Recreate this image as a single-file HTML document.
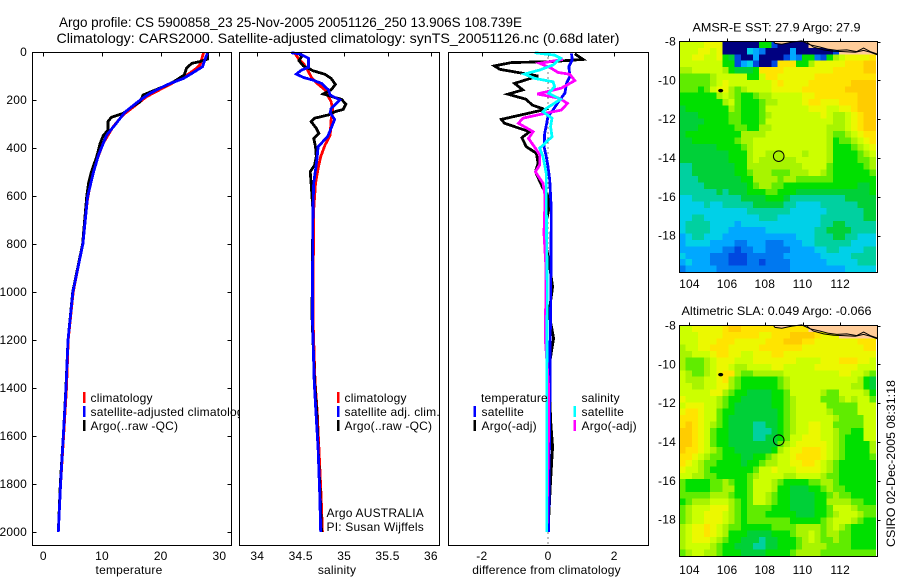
<!DOCTYPE html>
<html>
<head>
<meta charset="utf-8">
<title>Argo profile</title>
<style>
html,body{margin:0;padding:0;background:#fff;}
svg{display:block;font-family:"Liberation Sans",sans-serif;font-size:12px;fill:#000;letter-spacing:0.2px;}
</style>
</head>
<body>
<svg id="chart" width="900" height="580" viewBox="0 0 900 580" xmlns="http://www.w3.org/2000/svg">
<rect x="0" y="0" width="900" height="580" fill="#fff"/>
<text x="59" y="27" font-size="14" style="letter-spacing:0" textLength="463" lengthAdjust="spacingAndGlyphs">Argo profile: CS 5900858_23 25-Nov-2005 20051126_250 13.906S 108.739E</text>
<text x="56.5" y="43" font-size="14" style="letter-spacing:0" textLength="563" lengthAdjust="spacingAndGlyphs">Climatology: CARS2000. Satellite-adjusted climatology: synTS_20051126.nc (0.68d later)</text>
<g id="g1"></g>
<g id="g2"></g>
<g id="g3"></g>
<g id="g4"></g>
<g id="g5"></g>
<text transform="translate(895,547) rotate(-90)" style="letter-spacing:0" textLength="167" lengthAdjust="spacingAndGlyphs">CSIRO 02-Dec-2005 08:31:18</text>
</svg>
<script>
// ---------- profile data ----------
const depthTicks = [0,200,400,600,800,1000,1200,1400,1600,1800,2000];
const tempTicks = [0,10,20,30];
const salTicks = [34,34.5,35,35.5,36];
const diffTicks = [-2,0,2];

const tempClimDepth = [3,54,68,103,142,186,230,262,311,380,471,547,620,800,1000,1200,1400,1600,1800,2000];
const tempClim = [27.3,26.7,26.1,24.1,21,17.6,15.3,13.6,11.9,10.2,8.8,8,7.5,6.7,5.1,4.25,3.95,3.45,2.95,2.55];
const tempArgoDepth = [5,30,40,47,68,96,124,144,161,179,207,230,256,272,290,325,349,380,436,499,547,603,800,1000,1200,1400,1600,1800,2000];
const tempArgo = [27.95,27.95,26.7,25.3,24.4,24,22.2,20.5,18.8,17,16.5,15,13.6,11.6,11,11,10.2,9.7,9.1,8.2,7.7,7.4,6.7,5,4.2,3.85,3.4,2.9,2.55];
const tempSatDepth = [5,47,61,89,110,137,172,200,251,304,346,429,505,603,800,1000,1200,1400,1600,1800,2000];
const tempSat = [27.95,27.3,27.15,25.3,23.9,21,18.2,16.5,13.9,12.2,10.8,9.4,8.5,7.55,6.75,5.05,4.2,3.87,3.4,2.95,2.55];

const salClimDepth = [3,26,47,75,110,131,158,207,242,283,346,388,436,485,547,603,658,1100,1370,1500,1650,1850,2000];
const salClim = [34.43,34.47,34.53,34.58,34.63,34.69,34.78,34.85,34.87,34.85,34.84,34.78,34.73,34.7,34.67,34.66,34.65,34.64,34.665,34.69,34.71,34.735,34.75];
const salArgoDepth = [3,19,36,58,68,78,93,110,135,158,175,189,197,217,239,249,262,276,290,318,339,360,394,436,471,499,547,658,1100,1370,1500,1650,1850,2000];
const salArgo = [34.47,34.51,34.48,34.53,34.59,34.64,34.78,34.85,34.9,34.85,34.76,34.89,34.97,35.02,34.99,34.89,34.82,34.66,34.62,34.68,34.71,34.65,34.67,34.68,34.66,34.61,34.62,34.64,34.63,34.66,34.685,34.7,34.725,34.74];
const salSatDepth = [3,8,26,64,75,92,106,117,131,158,179,200,235,253,281,318,353,394,436,492,547,658,1100,1370,1500,1650,1850,2000];
const salSat = [34.39,34.49,34.59,34.59,34.51,34.45,34.53,34.64,34.74,34.82,34.84,34.95,34.85,34.84,34.89,34.85,34.81,34.7,34.69,34.67,34.65,34.64,34.635,34.655,34.675,34.7,34.72,34.73];

const diffTempArgoDepth = [8,31,40,44,58,72,100,131,158,176,197,221,239,249,281,297,332,357,394,422,464,499,568,603,658,755,867,978,1089,1193,1311,1535,1645,1784,2000];
const diffTempArgo = [0.81,1.06,0.1,-1.11,-1.62,-1.46,-0.3,-1.01,-0.76,-1.21,-0.66,-0.48,-0.1,-0.4,-1.41,-1.31,-0.56,-0.79,-0.66,-0.35,-0.3,-0.38,-0.15,0.02,0.02,-0.13,0.02,0.14,0.03,0.17,0.03,0.08,0.14,0.08,0];
const diffTempSatDepth = [6,33,61,103,131,172,200,242,269,339,394,436,478,533,658,1100,1240,1400,1800,2000];
const diffTempSat = [0.71,0.73,0.63,0.66,0.56,0.51,0.35,0.15,0,-0.1,-0.12,-0.05,0,0.05,0.1,0.08,0.06,0.06,0.03,0.02];
const diffSalArgoDepth = [31,47,68,85,93,119,151,175,193,214,242,256,276,297,332,360,401,429,471,499,547,589,658,755,900,1200,1400,1550,2000];
const diffSalArgo = [0.45,-0.25,0.1,0.3,0.66,0.81,0.4,-0.32,0.35,0.59,0.4,-0.1,-0.76,-0.89,-0.45,-0.59,-0.38,-0.25,-0.25,-0.38,-0.15,-0.1,-0.1,-0.12,-0.06,-0.08,0.02,0.02,-0.04];
const diffSalSatDepth = [3,13,26,54,75,92,110,124,144,172,197,235,249,276,311,353,401,436,506,658,1000,1400,2000];
const diffSalSat = [-0.4,0.2,0.38,0.15,-0.25,-0.71,-0.4,0.15,0.2,0.02,0.38,-0.05,-0.15,0.12,0.08,0.12,-0.25,-0.15,-0.05,-0.05,-0.02,-0.04,-0.04];

// ---------- map data (colour level per grid cell; 14 = land) ----------
const lonTicks = [104,106,108,110,112];
const latTicks = [-8,-10,-12,-14,-16,-18];
const sstGrid = [
[10,10,10,10,11,11,11,0,0,0,0,0,0,7,7,1,0,0,0,0,0,14,14,14,14,14,14,14,14,14,14,14],
[10,10,10,11,11,10,11,0,0,0,0,4,3,2,0,0,0,0,3,0,0,0,0,0,0,1,14,14,14,14,14,14],
[10,10,11,11,10,10,11,7,6,1,0,0,3,0,0,0,0,1,3,2,7,7,2,1,7,9,10,11,11,11,11,12],
[10,10,10,10,10,10,10,7,7,1,3,4,1,0,0,1,12,12,12,7,7,9,11,11,11,11,11,12,12,12,13,13],
[9,9,10,10,10,10,10,9,7,6,6,6,7,12,12,12,12,11,11,11,11,11,11,11,11,12,12,12,12,12,13,13],
[8,8,8,8,8,9,10,10,10,10,10,7,7,10,12,12,11,11,11,11,11,11,12,12,12,12,12,12,12,12,12,12],
[8,8,8,8,8,9,10,11,10,10,10,10,10,10,10,11,12,11,11,11,11,12,12,12,12,12,12,12,13,13,13,13],
[8,8,8,7,8,10,11,11,9,8,9,10,10,10,10,11,11,11,11,11,12,12,12,12,12,12,12,13,13,13,13,13],
[7,7,7,7,7,7,9,10,9,8,7,7,8,9,9,10,10,10,10,10,11,11,12,12,12,12,12,12,12,13,13,13],
[7,7,7,7,7,7,7,9,10,8,7,7,7,8,9,9,10,10,10,10,11,12,12,11,11,11,12,12,12,13,13,13],
[6,7,7,7,7,7,7,7,9,8,7,7,7,8,10,10,10,10,10,10,10,11,11,11,10,10,11,11,12,13,13,13],
[6,6,6,7,7,7,7,7,8,8,7,7,7,8,9,10,10,10,10,10,10,10,10,11,10,9,9,10,11,12,13,13],
[6,6,6,6,7,7,7,7,8,8,7,7,7,8,10,10,10,10,10,10,10,10,10,10,10,9,9,10,11,12,13,13],
[6,6,6,7,7,7,7,7,7,8,8,7,7,9,9,10,10,10,10,10,10,10,10,10,9,9,9,10,11,12,13,13],
[6,7,7,7,7,7,7,7,7,7,9,9,9,9,10,10,10,10,10,10,10,10,10,10,9,8,8,9,10,11,12,12],
[6,6,7,7,7,7,7,7,7,8,9,9,10,10,10,10,10,10,10,10,10,10,10,10,9,7,8,8,9,10,11,12],
[6,6,6,6,6,6,7,7,7,7,8,9,10,10,10,10,10,10,10,10,10,10,10,10,9,7,7,7,8,9,10,11],
[6,6,6,6,6,6,6,6,7,7,7,9,10,10,9,9,9,10,10,10,9,10,10,10,9,7,7,7,7,8,9,10],
[6,6,6,6,6,6,6,6,7,7,7,9,10,9,9,9,9,9,9,10,10,10,10,10,9,7,7,7,7,8,8,9],
[5,5,6,6,6,6,6,6,6,7,7,9,9,9,9,9,9,9,9,9,10,10,10,10,8,7,7,7,7,7,8,9],
[5,5,6,6,6,6,6,6,6,7,7,8,9,9,9,8,8,8,9,9,9,10,10,9,8,7,7,7,7,7,7,8],
[5,5,5,6,6,6,6,6,6,6,7,7,9,9,9,9,8,9,9,8,8,8,8,8,8,7,7,7,7,7,7,7],
[5,5,5,5,6,6,6,6,6,6,6,7,8,9,9,8,8,7,7,7,7,7,7,7,7,7,7,7,7,6,6,7],
[5,5,5,5,5,5,6,5,6,6,6,7,7,7,8,8,7,7,7,6,6,6,6,6,6,6,6,6,6,6,6,7],
[4,4,5,5,5,5,5,5,5,5,6,6,6,6,7,7,7,6,5,5,5,5,5,5,5,5,5,6,6,6,6,6],
[4,4,4,4,5,4,4,5,5,5,5,5,6,6,6,6,6,5,5,4,4,4,4,5,5,5,5,5,5,6,6,6],
[4,4,4,4,4,4,4,4,4,4,4,5,5,5,5,5,5,5,4,4,4,4,4,4,5,5,5,5,5,5,6,6],
[4,4,5,5,4,4,4,4,4,4,4,4,4,5,5,5,4,4,4,4,4,4,4,5,5,5,5,5,5,5,6,6],
[4,5,5,5,5,4,4,4,4,3,4,4,4,4,4,4,4,4,4,4,4,4,4,5,5,6,6,5,5,5,5,5],
[4,5,5,5,5,4,4,4,3,3,3,3,3,3,4,4,4,4,4,4,4,4,5,5,6,6,6,6,5,5,5,5],
[3,4,5,5,4,4,4,3,3,3,3,3,3,3,3,3,3,3,3,4,4,4,5,5,5,6,6,5,5,4,4,4],
[3,4,4,4,4,3,3,3,3,2,2,3,3,3,2,2,2,3,3,3,4,4,5,5,5,5,5,5,4,4,4,4],
[3,3,3,3,3,3,3,2,2,1,2,2,3,3,2,2,2,2,3,3,3,3,4,4,5,5,4,4,4,4,5,5],
[4,3,3,3,3,2,2,2,1,1,1,2,2,2,2,2,2,3,3,3,3,3,3,4,4,4,4,4,5,5,5,5],
[3,4,3,3,3,2,2,2,1,1,1,2,2,1,2,2,2,2,3,3,3,3,3,3,4,4,4,4,4,5,5,5],
[2,3,3,3,3,3,2,2,2,2,2,2,2,2,2,2,2,2,3,3,3,3,3,3,3,3,3,4,4,4,4,4]
];
const slaGrid = [
[10,10,11,11,11,11,11,12,13,13,12,12,12,12,12,12,12,12,12,12,12,14,14,14,14,14,14,14,14,14,14,14],
[10,10,10,11,11,11,11,12,12,12,12,12,12,11,11,12,12,12,13,13,13,13,12,11,11,11,14,14,14,14,14,14],
[10,10,10,11,11,11,12,12,12,11,11,11,11,11,12,12,12,13,13,13,12,12,11,11,11,11,11,11,11,12,12,12],
[9,10,10,11,11,12,12,12,11,11,11,11,11,12,12,12,12,12,12,12,11,11,11,11,11,11,11,11,11,11,12,12],
[9,9,10,10,10,11,12,12,11,11,10,10,11,11,11,12,12,11,11,11,11,11,11,11,11,11,11,11,11,11,11,11],
[9,8,8,8,9,10,11,11,11,10,10,10,11,11,11,11,11,11,11,10,10,10,10,11,11,11,12,12,12,11,11,10],
[9,8,8,8,9,10,11,11,10,9,9,10,10,10,10,11,11,10,10,10,10,10,11,11,11,11,11,11,11,10,10,10],
[10,9,8,8,9,10,11,12,12,9,8,8,9,9,9,9,9,10,10,10,10,10,10,10,10,10,11,11,10,10,9,8],
[10,9,9,9,10,10,11,12,9,8,7,7,7,7,7,7,8,9,10,10,10,10,10,10,10,10,10,10,10,9,7,6],
[10,10,9,9,10,10,11,11,9,8,7,7,7,7,7,7,8,9,10,10,10,10,10,10,10,10,10,10,9,9,7,6],
[10,10,10,10,10,11,11,9,8,7,7,6,6,6,6,7,7,8,10,10,10,10,10,9,8,8,10,10,10,10,9,7],
[11,10,10,10,10,10,9,8,7,7,6,6,6,6,6,7,7,8,9,10,10,10,10,8,8,8,9,10,9,10,10,8],
[10,11,11,11,10,10,9,8,7,6,6,6,6,6,6,7,7,8,9,10,10,10,10,10,8,8,8,8,8,10,10,10],
[11,12,12,11,10,10,8,7,7,6,6,6,6,6,6,6,7,8,9,10,10,10,10,10,9,8,8,8,8,10,10,10],
[12,12,12,11,10,10,8,7,6,6,6,6,6,6,6,6,7,8,9,10,10,10,10,10,10,9,8,8,8,8,10,10],
[12,13,12,11,10,9,8,7,6,6,6,6,5,5,6,6,7,8,9,10,10,11,11,10,10,8,8,8,8,8,10,10],
[13,13,12,11,10,8,7,7,6,6,6,6,5,5,5,6,7,8,9,10,10,11,11,10,10,9,8,8,7,7,10,10],
[13,13,12,11,10,8,7,7,6,6,6,6,5,5,6,6,7,8,10,10,11,11,11,10,10,9,8,7,7,7,10,10],
[13,13,12,11,10,8,7,7,6,6,6,6,6,6,6,6,8,9,10,11,11,11,11,11,10,9,8,7,7,7,7,9],
[13,12,12,11,10,9,8,7,7,6,6,6,6,6,6,7,9,10,11,11,12,12,12,11,10,9,8,7,7,7,7,9],
[12,12,11,10,9,8,8,7,7,7,6,6,7,7,8,9,10,10,11,12,12,12,12,11,10,9,8,7,7,7,7,8],
[12,11,10,9,8,8,7,7,7,7,6,7,7,8,9,9,10,10,11,11,12,12,11,10,9,8,7,7,7,7,7,7],
[11,10,10,9,8,7,7,7,7,7,7,7,8,10,10,11,10,10,10,11,11,11,11,10,9,8,7,7,7,7,7,7],
[10,10,9,9,8,8,7,7,7,7,7,8,9,10,10,10,10,9,9,10,10,10,10,9,8,8,7,7,7,7,7,7],
[8,7,7,7,7,8,8,9,8,7,7,8,10,10,10,9,8,7,7,7,7,8,8,9,9,8,7,7,7,7,7,7],
[8,7,7,7,7,8,8,9,9,7,7,8,10,10,10,9,7,7,6,6,6,7,7,8,9,8,8,7,7,7,7,7],
[8,8,8,8,8,9,9,9,8,7,7,8,10,10,9,8,7,7,6,6,6,6,7,7,8,9,8,8,7,7,7,7],
[7,8,9,9,9,10,10,10,9,8,7,8,10,10,9,8,7,7,6,6,6,6,7,7,9,9,9,9,8,8,7,7],
[8,9,10,10,10,11,11,11,9,8,7,8,8,8,8,7,7,7,6,6,6,6,7,7,8,10,10,10,9,8,8,8],
[8,9,10,10,11,11,11,10,9,8,7,8,8,8,7,7,7,7,7,6,6,6,7,7,8,9,10,10,10,9,8,8],
[8,9,10,10,11,11,11,10,9,8,7,8,8,8,8,8,8,8,7,7,7,7,7,8,9,10,10,10,9,8,7,7],
[9,10,11,11,12,11,10,9,8,8,7,7,7,7,7,8,8,8,8,9,9,9,9,8,9,10,9,8,7,7,7,7],
[9,10,11,11,12,11,10,9,7,7,7,6,6,6,6,7,7,7,8,9,9,10,9,8,9,9,8,8,7,7,7,7],
[9,10,11,11,11,10,9,8,7,7,6,6,6,5,6,6,7,7,7,8,9,10,9,8,8,9,8,8,7,7,7,7],
[9,10,10,10,10,9,8,7,7,6,6,6,5,5,6,6,7,7,7,8,9,9,9,9,8,8,8,8,7,7,7,7],
[8,9,10,10,9,9,8,7,7,7,6,6,6,6,7,7,7,7,8,9,9,9,9,8,8,8,8,8,8,8,8,8]
];
const coastUpperLon = [108.46,108.54,108.9,109.43,109.96,110.41,110.94,111.38,111.82,112.35,112.88,113.24,113.59,113.98];
const coastUpperLat = [-8,-8.1,-8.14,-8.03,-7.97,-8.17,-8.29,-8.4,-8.46,-8.43,-8.52,-8.34,-8.52,-8.65];
const coastLowerLon = [110.23,110.58,111.12,111.65,112.18,112.8,113.24,113.59,113.98];
const coastLowerLat = [-8.03,-8.29,-8.43,-8.5,-8.52,-8.55,-8.46,-8.55,-8.69];
const islandLon = [105.66];
const islandLat = [-10.53];
const floatLon = [108.739];
const floatLat = [-13.906];

// ---------- helpers ----------
const NS = 'http://www.w3.org/2000/svg';
function mk(parent, tag, attrs, name, text) {
  const el = document.createElementNS(NS, tag);
  for (const k in attrs) el.setAttribute(k, attrs[k]);
  
  
  if (text !== undefined) el.textContent = text;
  parent.appendChild(el);
  return el;
}
const depthY = d => 52 + d * 0.24;
const LEVELS = ['#000080','#0048e0','#0078f0','#00a8ff','#00d0e8','#00d0a0','#00d038','#00e000','#60ec00','#a8f400','#ccff00','#ecf800','#ffe400','#ffcc00','#ffcc99'];

function panel(g, box, xFn, ticks, xLabel, labelX, fmt, yLabels, sideTicks) {
  mk(g, 'rect', {x:box.l, y:box.t, width:box.r-box.l, height:box.b-box.t, fill:'#fff'}, 'plot-area');
  ticks.forEach(t => {
    const x = Math.round(xFn(t)) + 0.5;
    mk(g, 'line', {x1:x, x2:x, y1:box.t, y2:box.t+4, stroke:'#000'}, 'x-tick-top');
    mk(g, 'text', {x:xFn(t), y:560, 'text-anchor':'middle'}, 'x-tick-label', fmt(t));
  });
  if (sideTicks) {
    depthTicks.forEach(d => {
      const y = Math.round(depthY(d)) + 0.5;
      mk(g, 'line', {x1:box.l, x2:box.l+4, y1:y, y2:y, stroke:'#000'}, 'y-tick-left');
      mk(g, 'line', {x1:box.r-4, x2:box.r, y1:y, y2:y, stroke:'#000'}, 'y-tick-right');
    });
  }
  if (yLabels) {
    depthTicks.forEach(d => {
      mk(g, 'text', {x:27, y:depthY(d)+4, 'text-anchor':'end'}, 'y-tick-label', String(d));
    });
  }
  mk(g, 'text', {x:labelX, y:574, 'text-anchor':'middle'}, 'x-axis-title', xLabel);
}
function frame(g, box) {
  mk(g, 'rect', {x:box.l, y:box.t, width:box.r-box.l, height:box.b-box.t, fill:'none', stroke:'#000'}, 'plot-frame');
}
function series(g, depths, vals, xFn, color, name, width) {
  const pts = vals.map((v,i) => xFn(v).toFixed(1) + ',' + depthY(depths[i]).toFixed(1)).join(' ');
  mk(g, 'polyline', {points:pts, fill:'none', stroke:color, 'stroke-width':width, 'stroke-linejoin':'miter', 'shape-rendering':'crispEdges'}, name);
}
function legend(g, barX, textX, y, color, label, name) {
  if (color) mk(g, 'rect', {x:barX, y:y-10, width:2.5, height:11, fill:color, 'shape-rendering':'crispEdges'}, name + '-swatch');
  mk(g, 'text', {x:textX, y:y}, name + '-label', label);
}

// ---------- profile panels ----------
const g1 = document.getElementById('g1');
const g2 = document.getElementById('g2');
const g3 = document.getElementById('g3');
const box1 = {l:32.5, r:231.5, t:52.5, b:545.5};
const box2 = {l:239.5, r:439.5, t:52.5, b:545.5};
const box3 = {l:448.5, r:648.5, t:52.5, b:545.5};
const tX = v => 43.3 + v * 5.87;
const sX = v => 257.3 + (v - 34) * 86.8;
const dX = v => 548 + v * 33.1;

panel(g1, box1, tX, tempTicks, 'temperature', 129, String, true, true);
series(g1, tempClimDepth, tempClim, tX, '#f00', 'temperature-climatology-line', 2.8);
series(g1, tempArgoDepth, tempArgo, tX, '#000', 'temperature-argo-line', 2.8);
series(g1, tempSatDepth, tempSat, tX, '#00f', 'temperature-satellite-line', 2.8);
legend(g1, 83, 90.5, 402, '#f00', 'climatology', 'legend-climatology');
legend(g1, 83, 90.5, 416, '#00f', 'satellite-adjusted climatology', 'legend-satellite-adjusted');
legend(g1, 83, 90.5, 430, '#000', 'Argo(..raw -QC)', 'legend-argo');
frame(g1, box1);

panel(g2, box2, sX, salTicks, 'salinity', 337, String, false, false);
series(g2, salClimDepth, salClim, sX, '#f00', 'salinity-climatology-line', 2.8);
series(g2, salArgoDepth, salArgo, sX, '#000', 'salinity-argo-line', 2.8);
series(g2, salSatDepth, salSat, sX, '#00f', 'salinity-satellite-line', 2.8);
legend(g2, 337, 344.5, 402, '#f00', 'climatology', 'legend-climatology');
legend(g2, 337, 344.5, 416, '#00f', 'satellite adj. clim.', 'legend-satellite');
legend(g2, 337, 344.5, 430, '#000', 'Argo(..raw -QC)', 'legend-argo');
mk(g2, 'text', {x:326.5, y:517}, 'float-owner-label', 'Argo AUSTRALIA');
mk(g2, 'text', {x:326.5, y:531}, 'principal-investigator-label', 'PI: Susan Wijffels');
frame(g2, box2);

panel(g3, box3, dX, diffTicks, 'difference from climatology', 546.5, v => String(v), false, false);
mk(g3, 'line', {x1:dX(0), x2:dX(0), y1:box3.t, y2:box3.b, stroke:'#000', 'stroke-dasharray':'1 4'}, 'zero-reference-line');
series(g3, diffTempArgoDepth, diffTempArgo, dX, '#000', 'difference-temperature-argo-line', 2.8);
series(g3, diffTempSatDepth, diffTempSat, dX, '#00f', 'difference-temperature-satellite-line', 2.8);
series(g3, diffSalArgoDepth, diffSalArgo, dX, '#f0f', 'difference-salinity-argo-line', 2.8);
series(g3, diffSalSatDepth, diffSalSat, dX, '#0ff', 'difference-salinity-satellite-line', 2.8);
mk(g3, 'text', {x:481, y:402}, 'legend-temperature-heading', 'temperature');
legend(g3, 473.5, 481.5, 416, '#00f', 'satellite', 'legend-temperature-satellite');
legend(g3, 473.5, 481.5, 430, '#000', 'Argo(-adj)', 'legend-temperature-argo');
mk(g3, 'text', {x:581.5, y:402}, 'legend-salinity-heading', 'salinity');
legend(g3, 573.5, 581.5, 416, '#0ff', 'satellite', 'legend-salinity-satellite');
legend(g3, 573.5, 581.5, 430, '#f0f', 'Argo(-adj)', 'legend-salinity-argo');
frame(g3, box3);

// ---------- maps ----------
function drawMap(g, grid, top, bottom, titleText, titleX, titleW, titleY, labelY, prefix) {
  const L = 679.5, R = 877.5;
  const lonX = v => 689.4 + (v - 104) * 18.85;
  const latY = v => top + (-8 - v) * 19.42;
  const cw = (875.7 - L) / 32;
  const ch = (bottom - top - 0.5) / 36;
  grid.forEach((row, r) => {
    row.forEach((v, c) => {
      mk(g, 'rect', {x:(L + c*cw).toFixed(2), y:(top + r*ch).toFixed(2), width:(cw+0.5).toFixed(2), height:(ch+0.5).toFixed(2), fill:LEVELS[v], 'shape-rendering':'crispEdges'}, prefix + '-cell');
    });
  });
  // land
  const up = coastUpperLon.map((v,i) => lonX(v).toFixed(1) + ',' + latY(coastUpperLat[i]).toFixed(1));
  const low = coastLowerLon.map((v,i) => lonX(v).toFixed(1) + ',' + latY(coastLowerLat[i]).toFixed(1));
  mk(g, 'polygon', {points:up.join(' ') + ' ' + R + ',' + top + ' ' + lonX(108.46).toFixed(1) + ',' + top, fill:'#ffcc99'}, prefix + '-land');
  mk(g, 'polyline', {points:up.join(' '), fill:'none', stroke:'#000', 'stroke-width':1}, prefix + '-coastline-north');
  mk(g, 'polyline', {points:low.join(' '), fill:'none', stroke:'#000', 'stroke-width':1}, prefix + '-coastline-south');
  islandLon.forEach((v,i) => {
    mk(g, 'ellipse', {cx:lonX(v), cy:latY(islandLat[i]), rx:2.5, ry:1.7, fill:'#000'}, prefix + '-island');
  });
  floatLon.forEach((v,i) => {
    mk(g, 'circle', {cx:lonX(v), cy:latY(floatLat[i]), r:5.3, fill:'none', stroke:'#000', 'stroke-width':1}, prefix + '-float-position');
  });
  mk(g, 'rect', {x:L, y:top, width:R-L, height:bottom-top, fill:'none', stroke:'#000'}, prefix + '-frame');
  lonTicks.forEach(t => {
    const x = Math.round(lonX(t)) + 0.5;
    mk(g, 'line', {x1:x, x2:x, y1:top-3, y2:top, stroke:'#000'}, prefix + '-lon-tick');
    mk(g, 'text', {x:lonX(t), y:labelY, 'text-anchor':'middle'}, prefix + '-lon-label', String(t));
  });
  latTicks.forEach(t => {
    const y = Math.round(latY(t)) + 0.5;
    mk(g, 'line', {x1:R, x2:R+3, y1:y, y2:y, stroke:'#000'}, prefix + '-lat-tick');
    mk(g, 'text', {x:676, y:latY(t)+4, 'text-anchor':'end'}, prefix + '-lat-label', String(t));
  });
  const title = mk(g, 'text', {x:titleX, y:titleY, textLength:titleW, lengthAdjust:'spacingAndGlyphs'}, prefix + '-title', titleText);
  title.style.letterSpacing = '0';
}
drawMap(document.getElementById('g4'), sstGrid, 41.5, 272.5, 'AMSR-E SST: 27.9 Argo: 27.9', 692.5, 168, 31.5, 288, 'sst');
drawMap(document.getElementById('g5'), slaGrid, 325.5, 556.5, 'Altimetric SLA: 0.049 Argo: -0.066', 681.5, 190, 315, 574, 'sla');
</script>
</body>
</html>
